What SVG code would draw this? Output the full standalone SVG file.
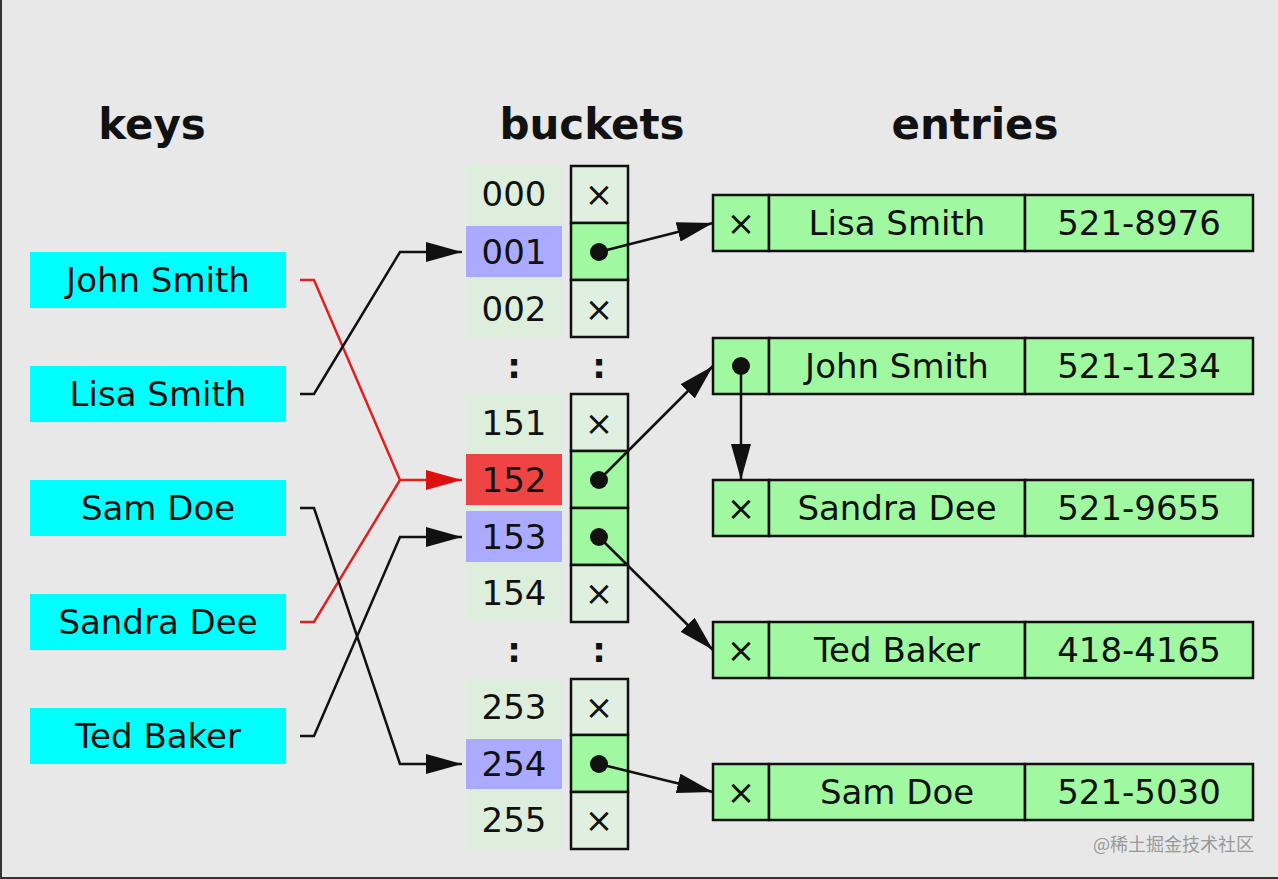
<svg xmlns="http://www.w3.org/2000/svg" width="1278" height="879" viewBox="0 0 1278 879">
<style>
text{font-family:"DejaVu Sans","Liberation Sans",sans-serif;fill:#111}
.h{font-size:42px;font-weight:bold;text-anchor:middle}
.t{font-size:34px;text-anchor:middle}
.b{font-weight:bold}
.key{fill:#00ffff}
.cell{stroke:#111;stroke-width:2.5}
.e{fill:#e0f0e0}
.f{fill:#a0f8a0}
.idx{fill:#ddeedd}
.con{fill:none;stroke:#111;stroke-width:2.5}
.red{fill:none;stroke:#e02020;stroke-width:2.5}
.wm{font-family:"Noto Sans CJK SC","DejaVu Sans",sans-serif;font-size:18px;fill:#999}
</style>
<defs>
<marker id="ah" viewBox="0 0 36 20" refX="36" refY="10" markerWidth="36" markerHeight="20" markerUnits="userSpaceOnUse" orient="auto"><path d="M0,0L36,10L0,20z" fill="#111"/></marker>
<marker id="ahr" viewBox="0 0 36 20" refX="36" refY="10" markerWidth="36" markerHeight="20" markerUnits="userSpaceOnUse" orient="auto"><path d="M0,0L36,10L0,20z" fill="#dd1010"/></marker>
</defs>
<rect width="1278" height="879" fill="#e8e8e8"/>
<rect x="0" y="0" width="2" height="879" fill="#333"/>
<rect x="0" y="877" width="1278" height="2" fill="#333"/>
<text class="h" x="152" y="139">keys</text>
<text class="h" x="592" y="139">buckets</text>
<text class="h" x="975" y="139">entries</text>
<g id="key-john"><rect class="key" x="30" y="252" width="256" height="56"/><text class="t" x="158" y="292">John Smith</text></g>
<g id="key-lisa"><rect class="key" x="30" y="366" width="256" height="56"/><text class="t" x="158" y="406">Lisa Smith</text></g>
<g id="key-sam"><rect class="key" x="30" y="480" width="256" height="56"/><text class="t" x="158" y="520">Sam Doe</text></g>
<g id="key-sandra"><rect class="key" x="30" y="594" width="256" height="56"/><text class="t" x="158" y="634">Sandra Dee</text></g>
<g id="key-ted"><rect class="key" x="30" y="708" width="256" height="56"/><text class="t" x="158" y="748">Ted Baker</text></g>
<g id="buckets">
<rect class="idx" x="466" y="166" width="96" height="171"/>
<rect class="idx" x="466" y="394" width="96" height="228"/>
<rect class="idx" x="466" y="679" width="96" height="170"/>
<rect x="466" y="226" width="96" height="51" fill="#aaaaff"/>
<rect x="466" y="454" width="96" height="51" fill="#ee4444"/>
<rect x="466" y="511" width="96" height="51" fill="#aaaaff"/>
<rect x="466" y="739" width="96" height="50" fill="#aaaaff"/>
<text class="t" x="514" y="206">000</text>
<text class="t" x="514" y="264">001</text>
<text class="t" x="514" y="321">002</text>
<text class="t b" x="514" y="378">:</text>
<text class="t b" x="599" y="378">:</text>
<text class="t" x="514" y="435">151</text>
<text class="t" x="514" y="492">152</text>
<text class="t" x="514" y="549">153</text>
<text class="t" x="514" y="605">154</text>
<text class="t b" x="514" y="662">:</text>
<text class="t b" x="599" y="662">:</text>
<text class="t" x="514" y="719">253</text>
<text class="t" x="514" y="776">254</text>
<text class="t" x="514" y="832">255</text>
<rect class="cell e" x="571" y="166" width="57" height="57"/>
<rect class="cell f" x="571" y="223" width="57" height="57"/>
<rect class="cell e" x="571" y="280" width="57" height="57"/>
<rect class="cell e" x="571" y="394" width="57" height="57"/>
<rect class="cell f" x="571" y="451" width="57" height="57"/>
<rect class="cell f" x="571" y="508" width="57" height="57"/>
<rect class="cell e" x="571" y="565" width="57" height="57"/>
<rect class="cell e" x="571" y="679" width="57" height="56"/>
<rect class="cell f" x="571" y="735" width="57" height="57"/>
<rect class="cell e" x="571" y="792" width="57" height="57"/>
<text class="t" x="599" y="206">×</text>
<text class="t" x="599" y="321">×</text>
<text class="t" x="599" y="435">×</text>
<text class="t" x="599" y="605">×</text>
<text class="t" x="599" y="719">×</text>
<text class="t" x="599" y="832">×</text>
</g>
<g id="entry-lisa"><rect class="cell f" x="713" y="195" width="56" height="56"/><rect class="cell f" x="769" y="195" width="256" height="56"/><rect class="cell f" x="1025" y="195" width="228" height="56"/><text class="t" x="741" y="235">×</text><text class="t" x="897" y="235">Lisa Smith</text><text class="t" x="1139" y="235">521-8976</text></g>
<g id="entry-john"><rect class="cell f" x="713" y="338" width="56" height="56"/><rect class="cell f" x="769" y="338" width="256" height="56"/><rect class="cell f" x="1025" y="338" width="228" height="56"/><text class="t" x="897" y="378">John Smith</text><text class="t" x="1139" y="378">521-1234</text></g>
<g id="entry-sandra"><rect class="cell f" x="713" y="480" width="56" height="56"/><rect class="cell f" x="769" y="480" width="256" height="56"/><rect class="cell f" x="1025" y="480" width="228" height="56"/><text class="t" x="741" y="520">×</text><text class="t" x="897" y="520">Sandra Dee</text><text class="t" x="1139" y="520">521-9655</text></g>
<g id="entry-ted"><rect class="cell f" x="713" y="622" width="56" height="56"/><rect class="cell f" x="769" y="622" width="256" height="56"/><rect class="cell f" x="1025" y="622" width="228" height="56"/><text class="t" x="741" y="662">×</text><text class="t" x="897" y="662">Ted Baker</text><text class="t" x="1139" y="662">418-4165</text></g>
<g id="entry-sam"><rect class="cell f" x="713" y="764" width="56" height="56"/><rect class="cell f" x="769" y="764" width="256" height="56"/><rect class="cell f" x="1025" y="764" width="228" height="56"/><text class="t" x="741" y="804">×</text><text class="t" x="897" y="804">Sam Doe</text><text class="t" x="1139" y="804">521-5030</text></g>
<g id="connectors">
<path class="red" d="M300,280H314L400,480H462" marker-end="url(#ahr)"/>
<path class="red" d="M300,622H314L400,480"/>
<path class="con" d="M300,394H314L400,252H462" marker-end="url(#ah)"/>
<path class="con" d="M300,508H314L400,764H462" marker-end="url(#ah)"/>
<path class="con" d="M300,736H314L400,537H462" marker-end="url(#ah)"/>
<path class="con" d="M599,252L713,223" marker-end="url(#ah)"/>
<path class="con" d="M599,480L713,366" marker-end="url(#ah)"/>
<path class="con" d="M599,537L713,650" marker-end="url(#ah)"/>
<path class="con" d="M599,764L713,792" marker-end="url(#ah)"/>
<path class="con" d="M741,366V480" marker-end="url(#ah)"/>
<circle cx="599" cy="252" r="9" fill="#111"/>
<circle cx="599" cy="480" r="9" fill="#111"/>
<circle cx="599" cy="537" r="9" fill="#111"/>
<circle cx="599" cy="764" r="9" fill="#111"/>
<circle cx="741" cy="366" r="9" fill="#111"/>
</g>
<text class="wm" x="1093" y="851">@稀土掘金技术社区</text>
</svg>
